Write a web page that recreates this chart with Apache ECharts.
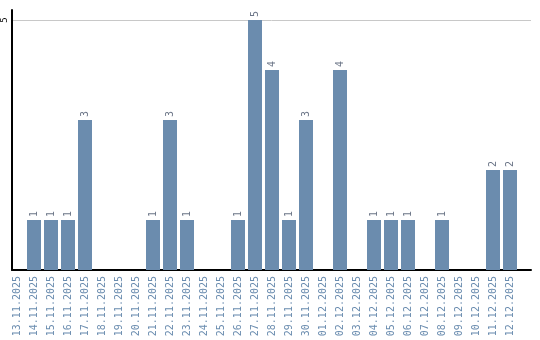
<!DOCTYPE html>
<html><head><meta charset="utf-8">
<script src="https://cdn.jsdelivr.net/npm/echarts@6/dist/echarts.min.js"></script>
<style>html,body{margin:0;padding:0;background:#fff}#c{width:540px;height:340px}</style>
</head><body><div id="c"></div>
<script>
const categories = ["13.11.2025","14.11.2025","15.11.2025","16.11.2025","17.11.2025","18.11.2025","19.11.2025","20.11.2025","21.11.2025","22.11.2025","23.11.2025","24.11.2025","25.11.2025","26.11.2025","27.11.2025","28.11.2025","29.11.2025","30.11.2025","01.12.2025","02.12.2025","03.12.2025","04.12.2025","05.12.2025","06.12.2025","07.12.2025","08.12.2025","09.12.2025","10.12.2025","11.12.2025","12.12.2025"];
const counts = [0,1,1,1,3,0,0,0,1,3,1,0,0,1,5,4,1,3,0,4,0,1,1,1,0,1,0,0,2,2];
const yTicks = [5];
const yMax = 5.2;

const chart = echarts.init(document.getElementById('c'), null, {renderer:'canvas'});
chart.setOption({
  animation:false,
  grid:[
    {left:8.5,width:510,top:10,bottom:70,containLabel:false},
    {left:10,right:9,top:10,bottom:70,containLabel:false}
  ],
  xAxis:[{
    type:'category', data:categories, gridIndex:0,
    axisLine:{show:false},
    axisTick:{show:false},
    axisLabel:{rotate:90,interval:0,color:'#6a8caf',fontFamily:'DejaVu Sans Mono',fontSize:10,margin:6}
  },{
    type:'value', gridIndex:1, min:0, max:1,
    axisLine:{show:true,onZero:false,lineStyle:{color:'#000',width:2}},
    axisTick:{show:false}, axisLabel:{show:false}, splitLine:{show:false}
  }],
  yAxis:[{
    type:'value', gridIndex:0, min:0, max:yMax,
    axisLine:{show:false}, axisTick:{show:false}, axisLabel:{show:false}, splitLine:{show:false}
  },{
    type:'value', gridIndex:1, min:0, max:yMax, interval:5,
    axisLine:{show:true,lineStyle:{color:'#000',width:2}},
    axisTick:{show:false},
    splitLine:{lineStyle:{color:['rgba(0,0,0,0)','#c8c8c8','rgba(0,0,0,0)'],width:1}},
    axisLabel:{rotate:90,color:'#000',fontFamily:'DejaVu Sans Mono',fontSize:9,margin:3,
      formatter:v=>yTicks.includes(v)?String(v):''}
  }],
  series:[{
    type:'bar', data:counts, xAxisIndex:0, yAxisIndex:0, barWidth:14,
    itemStyle:{color:'#6b8cae'},
    label:{show:true,position:'top',rotate:90,align:'left',verticalAlign:'middle',distance:3,
      color:'#6b7587',fontFamily:'DejaVu Sans Mono',fontSize:10,
      formatter:p=>p.value>0?String(p.value):''}
  }]
});
</script></body></html>
